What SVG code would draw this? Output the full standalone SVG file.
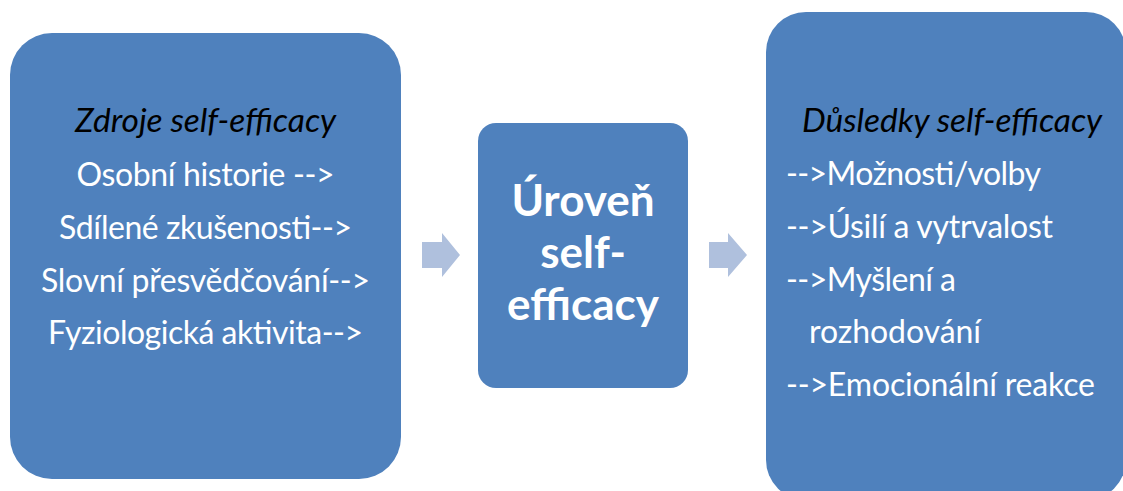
<svg xmlns="http://www.w3.org/2000/svg" width="1123" height="491" viewBox="0 0 1123 491">
  <style>
    .box { fill: #4F81BD; }
    .arrow { fill: #AFC0DD; }
    .txt { font-family: Lato, "Liberation Sans", sans-serif; fill: #FFFFFF; font-size: 32px; }
    .head { font-family: Lato, "Liberation Sans", sans-serif; fill: #000000; font-size: 33.5px; font-style: italic; }
    .big { font-family: Lato, "Liberation Sans", sans-serif; fill: #FFFFFF; font-size: 44px; font-weight: bold; }
  </style>
  <rect width="1123" height="491" fill="#FFFFFF"/>

  <!-- sources of self-efficacy -->
  <g id="zdroje">
    <rect class="box" x="10" y="33" width="391" height="446" rx="42" ry="42"/>
    <text class="head" x="205.5" y="132" text-anchor="middle" textLength="261">Zdroje self-efficacy</text>
    <text class="txt" x="205.5" y="186" text-anchor="middle" textLength="258">Osobní historie --&gt;</text>
    <text class="txt" x="205.5" y="239" text-anchor="middle" textLength="293">Sdílené zkušenosti--&gt;</text>
    <text class="txt" x="205.5" y="292" text-anchor="middle" textLength="329">Slovní přesvědčování--&gt;</text>
    <text class="txt" x="205.5" y="344" text-anchor="middle" textLength="315">Fyziologická aktivita--&gt;</text>
  </g>

  <!-- level of self-efficacy -->
  <g id="uroven">
    <rect class="box" x="478" y="123" width="210" height="265" rx="18" ry="18"/>
    <text class="big" x="583" y="216" text-anchor="middle">Úroveň</text>
    <text class="big" x="583" y="268" text-anchor="middle">self-</text>
    <text class="big" x="583" y="320" text-anchor="middle">efficacy</text>
  </g>

  <!-- consequences of self-efficacy -->
  <g id="dusledky">
    <rect class="box" x="766" y="12" width="360" height="488" rx="40" ry="40"/>
    <text class="head" x="802" y="132" textLength="300">Důsledky self-efficacy</text>
    <text class="txt" x="786" y="185" textLength="255">--&gt;Možnosti/volby</text>
    <text class="txt" x="786" y="238" textLength="267">--&gt;Úsilí a vytrvalost</text>
    <text class="txt" x="786" y="291" textLength="170">--&gt;Myšlení a</text>
    <text class="txt" x="809" y="343" textLength="172">rozhodování</text>
    <text class="txt" x="786" y="396" textLength="309">--&gt;Emocionální reakce</text>
  </g>

  <!-- connectors -->
  <g id="connectors">
    <polygon class="arrow" points="422,242 442,242 442,233 460,255 442,277 442,268 422,268"/>
    <polygon class="arrow" points="709,242 728,242 728,233 747,255 728,277 728,268 709,268"/>
  </g>
</svg>
